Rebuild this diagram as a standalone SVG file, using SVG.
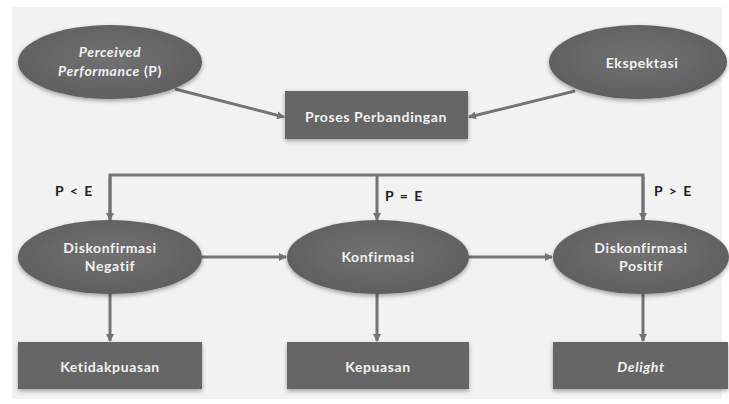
<svg xmlns="http://www.w3.org/2000/svg" width="729" height="404" viewBox="0 0 729 404">
<defs>
<style>
.shape{fill:url(#g);filter:url(#sh)}
.box{fill:#666666;filter:url(#sh)}
.t{font-family:Lato,"Open Sans","DejaVu Sans",sans-serif;font-size:14px;font-weight:bold;fill:#f2f2f2;text-anchor:middle;letter-spacing:0.6px}
.i{font-style:italic}
.lbl{font-family:Lato,"Open Sans","DejaVu Sans",sans-serif;font-size:14px;font-weight:bold;fill:#222;letter-spacing:1.5px}
.c{stroke:#747474;stroke-width:3;fill:none;marker-end:url(#a)}
.cn{stroke:#747474;stroke-width:3;fill:none}
</style>
<radialGradient id="g" cx="50%" cy="45%" r="60%">
<stop offset="0" stop-color="#717171"/>
<stop offset="1" stop-color="#5e5e5e"/>
</radialGradient>
<filter id="sh" x="-20%" y="-30%" width="140%" height="160%">
<feDropShadow dx="0" dy="2" stdDeviation="2" flood-color="#000" flood-opacity="0.35"/>
</filter>
<marker id="a" markerWidth="8" markerHeight="8" refX="7" refY="4" orient="auto" markerUnits="userSpaceOnUse" viewBox="0 0 8 8">
<path d="M0,0 L8,4 L0,8 z" fill="#747474"/>
</marker>
</defs>
<rect x="0" y="0" width="729" height="404" fill="#ffffff"/>
<rect x="12" y="7" width="710" height="392" fill="#f2f2f2"/>
<g id="connectors">
<line class="c" x1="175" y1="89" x2="284" y2="117"/>
<line class="c" x1="575" y1="91" x2="469" y2="117"/>
<polyline class="cn" points="110,221 110,175 643,175 643,221"/>
<line class="c" x1="110" y1="177" x2="110" y2="220"/>
<line class="c" x1="377" y1="175" x2="377" y2="220"/>
<line class="c" x1="643" y1="177" x2="643" y2="220"/>
<line class="c" x1="202" y1="257" x2="286" y2="257"/>
<line class="c" x1="469" y1="257" x2="552" y2="257"/>
<line class="c" x1="110" y1="294" x2="110" y2="341"/>
<line class="c" x1="377" y1="294" x2="377" y2="341"/>
<line class="c" x1="643" y1="294" x2="643" y2="341"/>
</g>
<g id="perceived">
<ellipse class="shape" cx="110" cy="62" rx="92" ry="37"/>
<text class="t" x="110" y="57"><tspan class="i">Perceived</tspan></text>
<text class="t" x="110" y="76"><tspan class="i">Performance</tspan> (P)</text>
</g>
<g id="ekspektasi">
<ellipse class="shape" cx="638" cy="62" rx="89" ry="37"/>
<text class="t" x="642" y="68">Ekspektasi</text>
</g>
<g id="proses">
<rect class="box" x="285" y="91" width="183" height="48"/>
<text class="t" x="376" y="122">Proses Perbandingan</text>
</g>
<g id="labels">
<text class="lbl" x="55" y="196">P &lt; E</text>
<text class="lbl" x="385" y="201">P = E</text>
<text class="lbl" x="654" y="196">P &gt; E</text>
</g>
<g id="disneg">
<ellipse class="shape" cx="110" cy="257" rx="92" ry="37"/>
<text class="t" x="110" y="253">Diskonfirmasi</text>
<text class="t" x="110" y="271">Negatif</text>
</g>
<g id="konfirmasi">
<ellipse class="shape" cx="378" cy="257" rx="91" ry="37"/>
<text class="t" x="378" y="262">Konfirmasi</text>
</g>
<g id="dispos">
<ellipse class="shape" cx="641" cy="257" rx="88" ry="37"/>
<text class="t" x="641" y="253">Diskonfirmasi</text>
<text class="t" x="641" y="271">Positif</text>
</g>
<g id="ketidakpuasan">
<rect class="box" x="18" y="342" width="184" height="47"/>
<text class="t" x="110" y="372">Ketidakpuasan</text>
</g>
<g id="kepuasan">
<rect class="box" x="287" y="342" width="182" height="47"/>
<text class="t" x="378" y="372">Kepuasan</text>
</g>
<g id="delight">
<rect class="box" x="553" y="342" width="175" height="47"/>
<text class="t i" x="641" y="372">Delight</text>
</g>
</svg>
